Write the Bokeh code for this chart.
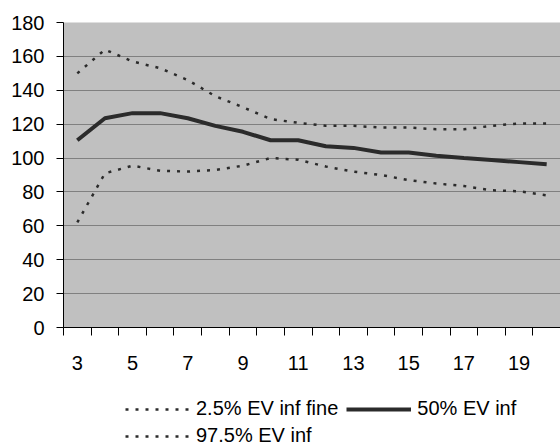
from bokeh.plotting import figure
from bokeh.layouts import column
from bokeh.models import Range1d, FixedTicker, Legend, LegendItem
from bokeh.embed import file_html
from bokeh.resources import INLINE

# Horizon (years) and the three percentile curves
years = list(range(3, 21))
p025 = [62, 91, 95.5, 92.5, 92, 93, 95.5, 100, 99, 95, 92, 90, 87, 85, 83.5, 81, 80.4, 78]
p50 = [110.5, 123.5, 126.5, 126.5, 123.5, 119, 115.5, 110.5, 110.5, 107, 106, 103.3, 103.3, 101.4, 100, 98.8, 97.6, 96.3]
p975 = [150, 164, 157, 153, 146, 136.5, 130, 123, 120.8, 119, 119, 118, 118, 117, 117, 119, 120.4, 120.4]
series_labels = ["2.5% EV inf fine", "50% EV inf", "97.5% EV inf"]

y_ticks = list(range(0, 181, 20))
x_label_ticks = list(range(3, 20, 2))
x_boundaries = [y - 0.5 for y in years] + [years[-1] + 0.5]

FONT = "Liberation Sans"
INK = "#2b2b2b"
DOTTED = dict(line_color=INK, line_width=2.5, line_dash="3 7")
SOLID = dict(line_color=INK, line_width=4)

p = figure(width=560, height=372, output_backend="svg", toolbar_location=None,
           x_range=Range1d(2.5, 20.5), y_range=Range1d(0, 180),
           min_border_left=63, min_border_right=0, min_border_top=22, min_border_bottom=44)
p.background_fill_color = "#c0c0c0"
p.border_fill_color = "white"
p.outline_line_color = None

# Y axis
p.yaxis.ticker = FixedTicker(ticks=y_ticks)
p.yaxis.axis_line_color = "black"
p.yaxis.major_tick_in = 0
p.yaxis.major_tick_out = 7
p.yaxis.major_tick_line_color = "black"
p.yaxis.minor_tick_line_color = None
p.yaxis.major_label_standoff = 12
p.yaxis.major_label_text_font = FONT
p.yaxis.major_label_text_font_size = "20px"
p.yaxis.major_label_text_color = "black"

# X axis: labels on odd years, tick marks between categories
p.xaxis.ticker = FixedTicker(ticks=x_label_ticks, minor_ticks=x_boundaries)
p.xaxis.axis_line_color = "black"
p.xaxis.major_tick_line_color = None
p.xaxis.major_tick_in = 0
p.xaxis.major_tick_out = 0
p.xaxis.minor_tick_line_color = "black"
p.xaxis.minor_tick_in = 0
p.xaxis.minor_tick_out = 8
p.xaxis.major_label_standoff = 20
p.xaxis.major_label_text_font = FONT
p.xaxis.major_label_text_font_size = "20px"
p.xaxis.major_label_text_color = "black"

p.xgrid.grid_line_color = None
p.ygrid.grid_line_color = "#808080"
p.ygrid.grid_line_width = 1

p.line(years, p025, **DOTTED)
p.line(years, p50, **SOLID)
p.line(years, p975, **DOTTED)

# Legend strip underneath the chart; its key lines hold a single NaN point
leg = figure(width=560, height=72, output_backend="svg", toolbar_location=None,
             x_axis_type=None, y_axis_type=None,
             x_range=Range1d(0, 1), y_range=Range1d(0, 1),
             min_border_left=0, min_border_right=0, min_border_top=0, min_border_bottom=0)
leg.outline_line_color = None
leg.xgrid.visible = False
leg.ygrid.visible = False
nan = float("nan")
k_low = leg.line([nan], [nan], **DOTTED)
k_mid = leg.line([nan], [nan], **SOLID)
k_high = leg.line([nan], [nan], **DOTTED)

legend_style = dict(orientation="horizontal",
                    glyph_width=65, glyph_height=12, label_height=12,
                    label_standoff=6, spacing=8, padding=0, margin=0,
                    label_text_font=FONT, label_text_font_size="20px",
                    label_text_color="black",
                    border_line_color=None, background_fill_alpha=0)
legend_top = Legend(items=[LegendItem(label=series_labels[0], renderers=[k_low]),
                           LegendItem(label=series_labels[1], renderers=[k_mid])],
                    location=(62, 24), **legend_style)
legend_bottom = Legend(items=[LegendItem(label=series_labels[2], renderers=[k_high])],
                       location=(62, -3), **legend_style)
leg.add_layout(legend_top, "center")
leg.add_layout(legend_bottom, "center")

layout = column(p, leg, spacing=0)
open("out.html", "w").write(file_html(layout, INLINE))
